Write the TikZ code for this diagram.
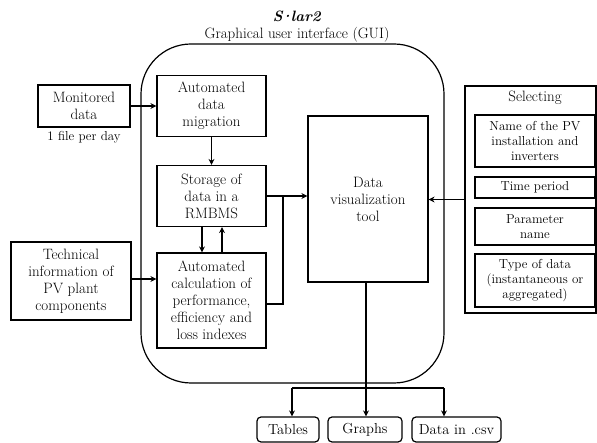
\documentclass[tikz,border=0pt]{standalone}
\usetikzlibrary{arrows.meta}
\begin{document}
\begin{tikzpicture}[x=1pt,y=-1pt,
  line width=1.2pt,
  arr/.style={-{Stealth[length=6pt,width=6pt,inset=2pt]}},
  box/.style={draw,align=center,inner sep=1pt,font=\fontsize{15}{17}\selectfont},
  sbox/.style={draw,align=center,inner sep=1pt,minimum width=120pt,font=\fontsize{13}{15}\selectfont},
  rbox/.style={draw,rounded corners=4pt,align=center,inner sep=1pt,minimum height=25pt,font=\fontsize{14.5}{17}\selectfont},
  lbl/.style={inner sep=0pt,font=\fontsize{15}{17}\selectfont}]
\useasboundingbox (0,0) rectangle (597,443);
% title
\node[lbl] (title) at (297,16) {\textbf{\textit{S\kern-2.5pt·\kern-2.5pt lar2}}};
\node[lbl] (gtitle) at (297,35) {Graphical user interface (GUI)};
% GUI frame
\node[draw,rounded corners=50pt,minimum width=303pt,minimum height=339pt,inner sep=0pt] (gui) at (292.5,213.5) {};
% left boxes
\node[box,minimum width=92pt,minimum height=42pt] (mon) at (84,106) {Monitored\\data};
\node[inner sep=0pt,font=\fontsize{13}{15}\selectfont] (fileday) at (84,137) {1 file per day};
\node[box,minimum width=120pt,minimum height=78pt] (tech) at (71,281) {Technical\\information of\\PV plant\\components};
% inner boxes
\node[box,minimum width=109pt,minimum height=61pt] (mig) at (211.5,106) {Automated\\data\\migration};
\node[box,minimum width=109pt,minimum height=61pt] (sto) at (211.5,196) {Storage of\\data in a\\RMBMS};
\node[box,minimum width=109pt,minimum height=95pt] (calc) at (211.5,300.5) {Automated\\calculation of\\performance,\\efficiency and\\loss indexes};
\node[box,minimum width=120pt,minimum height=166pt] (vis) at (368,199) {Data\\visualization\\tool};
% selecting panel
\node[draw,minimum width=131pt,minimum height=227pt,inner sep=0pt] (sel) at (530.5,199.5) {};
\node[lbl] (seltitle) at (535,98) {Selecting};
\node[sbox,minimum height=52pt] (name) at (535,141) {Name of the PV\\installation and\\inverters};
\node[sbox,minimum height=21pt] (time) at (535,187.5) {Time period};
\node[sbox,minimum height=37pt] (param) at (535,226.5) {Parameter\\name};
\node[sbox,minimum height=53pt] (type) at (535,280.5) {Type of data\\(instantaneous or\\aggregated)};
% outputs
\node[rbox,minimum width=62pt] (tables) at (288,429.5) {Tables};
\node[rbox,minimum width=74pt] (graphs) at (365,429.5) {Graphs};
\node[rbox,minimum width=89pt] (csv) at (456.5,429.5) {Data in .csv};
% connectors
\draw[arr] (mon.east) -- (mon.east -| mig.west);
\draw[arr] (mig.south) -- (sto.north);
\draw[arr] ([xshift=-9.5pt]sto.south) -- ([xshift=-9.5pt]sto.south |- calc.north);
\draw[arr] ([xshift=10.5pt]calc.north) -- ([xshift=10.5pt]calc.north |- sto.south);
\draw[arr] (tech.east |- 0,279) -- (calc.west |- 0,279);
\coordinate (j) at (283,196);
\draw[arr] (sto.east) -- (sto.east -| vis.west);
\draw (calc.east |- 0,304) -| (j);
\draw[arr] (sel.west) -- (sel.west -| vis.east);
\coordinate (bl) at (292,388);
\coordinate (br) at (444,388);
\draw[arr] (366,0 |- vis.south) -- (366,0 |- graphs.north);
\draw (bl) -- (br);
\draw[arr] (bl) -- (bl |- tables.north);
\draw[arr] (br) -- (br |- csv.north);
\end{tikzpicture}
\end{document}
